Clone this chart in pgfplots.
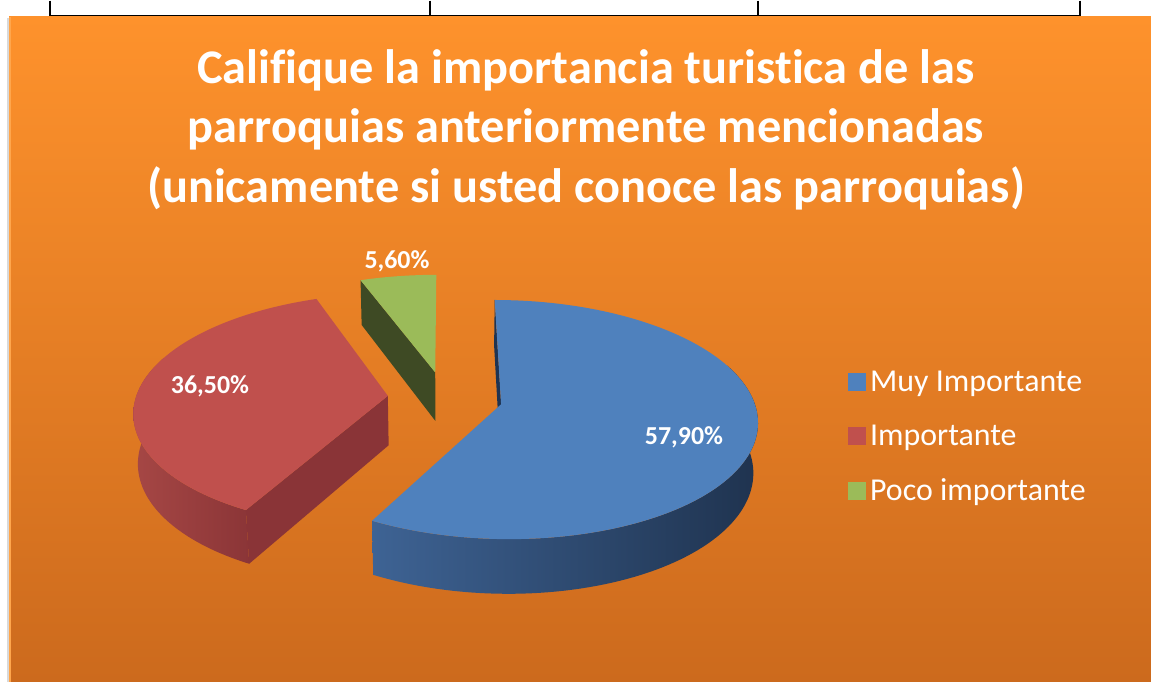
\documentclass[border=0pt]{standalone}
\usepackage{pgfplots}
\pgfplotsset{compat=1.18}
\usepackage{pgfplotstable}
\usepackage{fontspec}
\setmainfont{Carlito}[Ligatures={NoCommon}]
\definecolor{blueT}{HTML}{4F81BD}
\definecolor{blueS1}{HTML}{3E6394}
\definecolor{blueS2}{HTML}{253E5C}
\definecolor{blueS3}{HTML}{1F334F}
\definecolor{blueR}{HTML}{1F3452}
\definecolor{redT}{HTML}{C0504D}
\definecolor{redS1}{HTML}{A64745}
\definecolor{redS2}{HTML}{8B3537}
\definecolor{redR}{HTML}{8A3437}
\definecolor{greenT}{HTML}{9BBB59}
\definecolor{greenR}{HTML}{3E4A24}
\definecolor{orTop}{HTML}{FE922C}
\definecolor{orBot}{HTML}{CC6A1D}

\pgfplotstableread{
cat value
A 57.9
B 36.5
C 5.6
}\piedata

\newcommand\Rr{(min(\t,1)-max(\t-2,0))}
\newcommand\Tt[2]{(#1+(#2-#1)*min(max(\t-1,0),1))}
\newcommand\Zz{(-\hh*min(max(\t-1,0),1))}
\newcommand\Tw[2]{(#1+(#2-#1)*min(\t,1)-(#2-#1)*max(\t-2,0))}
% top face: style, ox, oy, a, b
\newcommand\topface[5]{%
\addplot[forget plot, draw=none, #1, domain=0:3, samples=241, variable=\t]
({PX(#2+\Rr*cos(\Tt{#4}{#5}), #3+\Rr*sin(\Tt{#4}{#5}), 0)},
 {PY(#2+\Rr*cos(\Tt{#4}{#5}), #3+\Rr*sin(\Tt{#4}{#5}), 0)});}
% outer wall: style, ox, oy, a, b
\newcommand\wall[5]{%
\addplot[forget plot, draw=none, #1, domain=0:3, samples=241, variable=\t]
({PX(#2+cos(\Tw{#4}{#5}), #3+sin(\Tw{#4}{#5}), \Zz)},
 {PY(#2+cos(\Tw{#4}{#5}), #3+sin(\Tw{#4}{#5}), \Zz)});}
% radial face: style, ox, oy, angle
\newcommand\radial[4]{%
\addplot[forget plot, draw=none, #1, domain=0:3, samples=61, variable=\t]
({PX(#2+\Rr*cos(#4), #3+\Rr*sin(#4), \Zz)},
 {PY(#2+\Rr*cos(#4), #3+\Rr*sin(#4), \Zz)});}

\begin{document}%
\begin{tikzpicture}[declare function={
  PX(\X,\Y,\Z)=445+1764*\X/(7+0.8878*\Y-0.4602*\Z);
  PY(\X,\Y,\Z)=397-1764*(0.4602*\Y+0.8878*\Z)/(7+0.8878*\Y-0.4602*\Z);}]
\pgfplotstablegetelem{0}{value}\of\piedata \let\vA\pgfplotsretval
\pgfplotstablegetelem{1}{value}\of\piedata \let\vB\pgfplotsretval
\pgfplotstablegetelem{2}{value}\of\piedata \let\vC\pgfplotsretval
\pgfmathsetmacro\aA{90-3.6*\vA}
\pgfmathsetmacro\aB{\aA-3.6*\vB}
\pgfmathsetmacro\aC{\aB-3.6*\vC}
\def\ex{0.228}
\def\hh{0.2245}
\pgfmathsetmacro\mA{(90+\aA)/2}
\pgfmathsetmacro\mB{(\aA+\aB)/2}
\pgfmathsetmacro\mC{(\aB+\aC)/2}
\pgfmathsetmacro\oxA{\ex*cos(\mA)}\pgfmathsetmacro\oyA{\ex*sin(\mA)}
\pgfmathsetmacro\oxB{\ex*cos(\mB)}\pgfmathsetmacro\oyB{\ex*sin(\mB)}
\pgfmathsetmacro\oxC{\ex*cos(\mC)}\pgfmathsetmacro\oyC{\ex*sin(\mC)}
\begin{axis}[
  width=1151bp, height=681bp, scale only axis,
  xmin=0, xmax=1151, ymin=0, ymax=681, y dir=reverse,
  hide axis, clip=false,
  legend style={at={(axis description cs:0.7341,0.4596)}, anchor=north west,
    draw=none, fill=none, text=white,
    font=\fontsize{32}{38}\selectfont, row sep=32bp,
    nodes={inner xsep=4bp, inner ysep=0bp}},
  legend cell align=left,
  legend image code/.code={\fill[#1, draw=none] (0bp,-9bp) rectangle (18bp,9bp);},
]
% legend entries
\addlegendimage{fill=blueT}\addlegendentry{Muy Importante}
\addlegendimage{fill=redT}\addlegendentry{Importante}
\addlegendimage{fill=greenT}\addlegendentry{Poco importante}
% background
\fill[white] (axis cs:0,0) rectangle (axis cs:1151,681);
\fill[top color=orTop, bottom color=orBot] (axis cs:9,16) rectangle (axis cs:1151,681);
\fill[gray!30] (axis cs:7,17) rectangle (axis cs:9,681);
\fill[orange!70!white] (axis cs:9,16) rectangle (axis cs:10.5,681);
\draw[black, line width=1.5bp] (axis cs:50,15) -- (axis cs:1080,15);
\draw[black, line width=1.5bp] (axis cs:50,0) -- (axis cs:50,15);
\draw[black, line width=1.5bp] (axis cs:430,0) -- (axis cs:430,15);
\draw[black, line width=1.5bp] (axis cs:758,0) -- (axis cs:758,15);
\draw[black, line width=1.5bp] (axis cs:1080,0) -- (axis cs:1080,15);
% green slice
\radial{fill=greenR}{\oxC}{\oyC}{\aB}
\topface{fill=greenT}{\oxC}{\oyC}{\aC}{\aB}
% red slice
\wall{left color=redS1, right color=redS2}{\oxB}{\oyB}{-200}{\aA}
\radial{fill=redR}{\oxB}{\oyB}{\aA}
\topface{fill=redT}{\oxB}{\oyB}{\aB}{\aA}
% blue slice
\radial{fill=blueR}{\oxA}{\oyA}{90}
\wall{left color=blueS1, middle color=blueS2, right color=blueS3}{\oxA}{\oyA}{\aA}{20}
\topface{fill=blueT}{\oxA}{\oyA}{\aA}{90}
% data labels
\node[text=white, font=\bfseries\fontsize{26}{30}\selectfont] at (axis cs:684,437) {57,90\%};
\node[text=white, font=\bfseries\fontsize{26}{30}\selectfont] at (axis cs:210,386) {36,50\%};
\node[text=white, font=\bfseries\fontsize{26}{30}\selectfont] at (axis cs:397,261) {5,60\%};
% title
\node[text=white, align=center, font=\bfseries\fontsize{48.5}{60}\selectfont] at (axis cs:586,129)
  {Califique la importancia turistica de las\\parroquias anteriormente mencionadas\\(unicamente si usted conoce las parroquias)};
\end{axis}
\end{tikzpicture}%
\end{document}
